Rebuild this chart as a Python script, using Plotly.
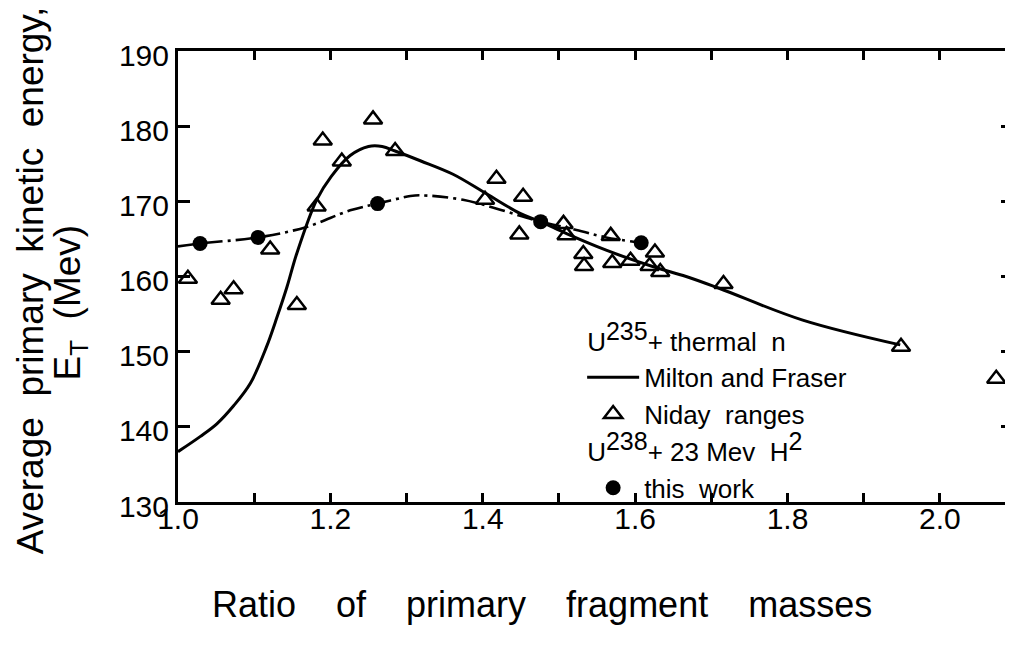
import plotly.graph_objects as go

# ---- data ----
# Milton and Fraser smooth curve (U235 + thermal n)
mf_x = [1.000, 1.029, 1.051, 1.073, 1.095, 1.116, 1.130, 1.143, 1.156,
        1.182, 1.201, 1.226, 1.250, 1.268, 1.285, 1.318, 1.361, 1.405, 1.449,
        1.476, 1.510, 1.562, 1.624, 1.667, 1.711, 1.820, 1.948]
mf_y = [136.7, 138.7, 140.4, 142.8, 145.8, 150.6, 154.6, 158.6, 163.1,
        170.2, 173.3, 176.1, 177.3, 177.3, 176.7, 175.4, 173.6, 171.0, 168.4,
        167.3, 165.7, 163.5, 161.3, 160.0, 158.4, 154.2, 150.9]

# Niday ranges (open triangles)
niday_x = [1.013, 1.056, 1.073, 1.121, 1.156, 1.182, 1.190, 1.215, 1.256, 1.285,
           1.403, 1.418, 1.448, 1.453, 1.506, 1.510, 1.532, 1.533, 1.568, 1.570,
           1.594, 1.619, 1.626, 1.633, 1.716, 1.949, 2.074]
niday_y = [159.7, 156.9, 158.3, 163.6, 156.2, 169.3, 178.1, 175.3, 180.9, 176.7,
           170.2, 173.0, 165.6, 170.6, 167.0, 165.5, 163.0, 161.4, 165.4, 161.8,
           162.1, 161.4, 163.2, 160.6, 159.0, 150.65, 146.4]

# This work, U238 + 23 Mev H2 (filled circles)
work_x = [1.029, 1.105, 1.262, 1.476, 1.608]
work_y = [164.4, 165.2, 169.7, 167.3, 164.5]

# dash-dot curve through this work
dd_x = [1.000, 1.029, 1.105, 1.169, 1.226, 1.262, 1.305, 1.318, 1.374, 1.476,
        1.523, 1.562, 1.608]
dd_y = [164.0, 164.4, 165.2, 166.6, 168.8, 169.7, 170.7, 170.8, 170.2, 167.3,
        166.2, 165.2, 164.5]

x_tickvals = [1.0, 1.2, 1.4, 1.6, 1.8, 2.0]
x_ticktext = ["1.0", "1.2", "1.4", "1.6", "1.8", "2.0"]
x_minorvals = [1.1, 1.3, 1.5, 1.7, 1.9]
y_tickvals = [130, 140, 150, 160, 170, 180, 190]
y_ticktext = ["130", "140", "150", "160", "170", "180", "190"]

FONT = "Liberation Sans, Arial, sans-serif"
NB = "\u00a0"

fig = go.Figure()

fig.add_trace(go.Scatter(
    x=dd_x, y=dd_y, mode="lines", line_shape="spline",
    line=dict(color="black", width=2.6, dash="16px,5px,3px,5px"),
    showlegend=False, hoverinfo="skip"))

fig.add_trace(go.Scatter(
    x=mf_x, y=mf_y, mode="lines", line_shape="spline",
    line=dict(color="black", width=3),
    name="Milton and Fraser",
    legendgroup="u235",
    legendgrouptitle=dict(
        text="U<sup><span style='font-size:25px'>235</span></sup>+ thermal" + NB + NB + "n",
        font=dict(family=FONT, size=26, color="black"))))

fig.add_trace(go.Scatter(
    x=niday_x, y=niday_y, mode="markers",
    marker=dict(symbol="triangle-up-open", size=16, color="black",
                line=dict(color="black", width=2.5)),
    name="Niday" + NB + NB + "ranges", legendgroup="u235"))

fig.add_trace(go.Scatter(
    x=work_x, y=work_y, mode="markers",
    marker=dict(symbol="circle", size=15, color="black"),
    name="this" + NB + NB + "work", legendgroup="u238",
    legendgrouptitle=dict(
        text="U<sup><span style='font-size:25px'>238</span></sup>+ 23 Mev" + NB + NB
             + "H<sup><span style='font-size:25px'>2</span></sup>",
        font=dict(family=FONT, size=26, color="black"))))

# invisible trace to carry the right-hand tick axis
fig.add_trace(go.Scatter(x=[None], y=[None], yaxis="y2", showlegend=False,
                         hoverinfo="skip"))

# page body has an 8px margin: shift the figure margins to compensate
fig.update_layout(
    width=1013, height=640,
    margin=dict(l=170, r=8, t=43, b=146),
    plot_bgcolor="white", paper_bgcolor="white",
    font=dict(family=FONT, color="black"),
    legend=dict(x=0.484, y=0.41, xanchor="left", yanchor="top",
                bgcolor="rgba(0,0,0,0)", traceorder="grouped",
                tracegroupgap=0, itemwidth=52,
                font=dict(family=FONT, size=26, color="black")),
    xaxis=dict(range=[1.0, 2.096], tickvals=x_tickvals, ticktext=x_ticktext,
               ticks="inside", ticklen=9, tickwidth=2.5, tickcolor="black",
               minor=dict(tickvals=x_minorvals, ticks="inside", ticklen=9,
                          tickwidth=2.5, tickcolor="black", showgrid=False),
               showline=True, linewidth=3, linecolor="black", mirror="ticks",
               showgrid=False, zeroline=False, ticklabelstandoff=-12,
               tickfont=dict(family=FONT, size=30, color="black")),
    yaxis=dict(range=[130, 190], tickvals=y_tickvals, ticktext=y_ticktext,
               ticks="inside", ticklen=12, tickwidth=2.5, tickcolor="black",
               showline=True, linewidth=3, linecolor="black",
               showgrid=False, zeroline=False, ticklabelshift=4,
               tickfont=dict(family=FONT, size=30, color="black")),
    yaxis2=dict(overlaying="y", side="right", matches="y", range=[130, 190],
                tickvals=y_tickvals, ticks="inside", ticklen=12, tickwidth=2.5,
                tickcolor="black", showticklabels=False, showline=False,
                showgrid=False, zeroline=False),
)

fig.add_annotation(
    text="Average" + NB + NB + "primary" + NB + NB + "kinetic" + NB + NB + "energy,",
    xref="paper", yref="paper", x=-0.177, y=0.492, textangle=-90,
    xanchor="center", yanchor="middle",
    showarrow=False, font=dict(family=FONT, size=37, color="black"))
fig.add_annotation(
    text="E<sub>T</sub>" + NB + NB + "(Mev)",
    xref="paper", yref="paper", x=-0.129, y=0.443, textangle=-90,
    xanchor="center", yanchor="middle",
    showarrow=False, font=dict(family=FONT, size=37, color="black"))
fig.add_annotation(
    text="Ratio" + NB * 4 + "of" + NB * 4 + "primary" + NB * 4 + "fragment" + NB * 4 + "masses",
    xref="paper", yref="paper", x=0.436, y=-0.228,
    xanchor="center", yanchor="middle",
    showarrow=False, font=dict(family=FONT, size=36, color="black"))

fig.write_html("out.html")
